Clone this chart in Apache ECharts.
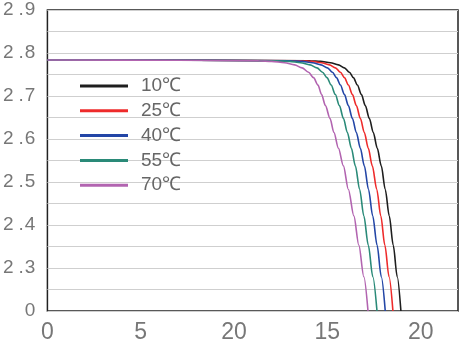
<!DOCTYPE html>
<html><head><meta charset="utf-8">
<script src="https://cdn.jsdelivr.net/npm/echarts@6/dist/echarts.min.js"></script>
<style>html,body{margin:0;padding:0;background:#fff}#c{width:460px;height:344px}</style>
</head><body><div id="c"></div>
<script>
// tick labels (as printed on the original)
const yTickLabels = ['0','2.3','2.4','2.5','2.6','2.7','2.8','2.9'];
const xTickLabels = ['0','5','20','15','20'];
const seriesNames = ['10℃','25℃','40℃','55℃','70℃'];
const seriesColors = ['#1e1e1e','#ee2b2b','#2346a6','#2a8a78','#b264b0'];

// curve values in axis units (x: 0..22, y: 0..7 label positions)
const curve10 = [[0,5.837],[8,5.832],[14.097,5.819],[14.631,5.805],[15.165,5.773],[15.593,5.723],[15.913,5.655],[16.180,5.552],[16.393,5.427],[16.607,5.256],[16.821,5.039],[17.034,4.777],[17.248,4.480],[17.462,4.150],[17.675,3.785],[17.889,3.375],[18.102,2.827],[18.316,2.212],[18.530,1.528],[18.743,0.798],[18.941,0]];
const curve25 = [[0,5.837],[8,5.832],[13.617,5.819],[14.151,5.805],[14.685,5.773],[15.112,5.723],[15.432,5.655],[15.699,5.552],[15.913,5.427],[16.126,5.256],[16.340,5.039],[16.554,4.777],[16.767,4.480],[16.981,4.150],[17.194,3.785],[17.408,3.375],[17.648,2.827],[17.862,2.212],[18.081,1.528],[18.305,0.798],[18.513,0]];
const curve40 = [[0,5.837],[8,5.832],[13.083,5.819],[13.617,5.805],[14.204,5.773],[14.658,5.723],[15.005,5.655],[15.272,5.552],[15.486,5.427],[15.699,5.256],[15.913,5.039],[16.126,4.777],[16.340,4.480],[16.554,4.150],[16.767,3.785],[16.981,3.375],[17.205,2.827],[17.430,2.212],[17.664,1.528],[17.889,0.798],[18.102,0]];
const curve55 = [[0,5.837],[7.5,5.832],[12.389,5.819],[12.976,5.805],[13.563,5.773],[14.071,5.723],[14.444,5.655],[14.738,5.552],[14.978,5.427],[15.203,5.256],[15.422,5.039],[15.646,4.777],[15.860,4.480],[16.073,4.150],[16.287,3.785],[16.500,3.375],[16.730,2.827],[16.954,2.212],[17.194,1.528],[17.435,0.798],[17.659,0]];
const curve70 = [[0,5.837],[7,5.832],[11.321,5.819],[12.015,5.805],[12.709,5.773],[13.243,5.723],[13.643,5.655],[13.990,5.552],[14.258,5.427],[14.498,5.256],[14.685,5.039],[14.898,4.777],[15.139,4.480],[15.352,4.150],[15.593,3.785],[15.860,3.375],[16.126,2.827],[16.420,2.212],[16.687,1.528],[16.954,0.798],[17.178,0]];
const curves = [curve10, curve25, curve40, curve55, curve70];

const chart = echarts.init(document.getElementById('c'), null, {renderer:'canvas'});
const FF = 'Liberation Sans, Arial, sans-serif';
chart.setOption({
  animation:false,
  backgroundColor:'#fff',
  grid:{left:46,right:2,top:10,bottom:27,show:true,borderColor:'#222',borderWidth:1.5,backgroundColor:'transparent'},
  legend:{
    orient:'vertical', left:80, top:76, padding:0,
    itemWidth:48, itemHeight:3, itemGap:4.8, icon:'rect',
    data:seriesNames,
    textStyle:{color:'#666', fontSize:19, lineHeight:20, fontFamily:FF, padding:[0,0,0,8]}
  },
  xAxis:{
    type:'value', min:0, max:22, interval:5,
    axisLine:{show:false}, axisTick:{show:false}, splitLine:{show:false},
    axisLabel:{margin:10, showMaxLabel:false, color:'#777', fontSize:23, fontFamily:FF,
      formatter:function(v){const i=Math.round(v/5);return (v%5===0 && xTickLabels[i]!==undefined) ? xTickLabels[i] : '';}}
  },
  yAxis:{
    type:'value', min:0, max:7, interval:0.5,
    axisLine:{show:false}, axisTick:{show:false},
    splitLine:{show:true, lineStyle:{color:'#cfcfcf', width:1}},
    axisLabel:{margin:12, color:'#777', fontSize:19, fontFamily:FF,
      formatter:function(v){
        if(!Number.isInteger(v)) return '';
        const s = yTickLabels[v];
        const p = s.split('.');
        return p.length===2 ? '{d|'+p[0]+'}{p|.}{d|'+p[1]+'}' : '{d|'+s+'}';
      },
      rich:{d:{color:'#777',fontSize:19,fontFamily:FF},p:{color:'#777',fontSize:19,fontFamily:FF,padding:[0,1,0,5]}}
    }
  },
  series: curves.map((d,i)=>({
    name:seriesNames[i], type:'line', data:d, smooth:0.3, smoothMonotone:'x', showSymbol:false, symbol:'none',
    lineStyle:{color:seriesColors[i], width:1.6}, itemStyle:{color:seriesColors[i]}
  }))
});
</script></body></html>
